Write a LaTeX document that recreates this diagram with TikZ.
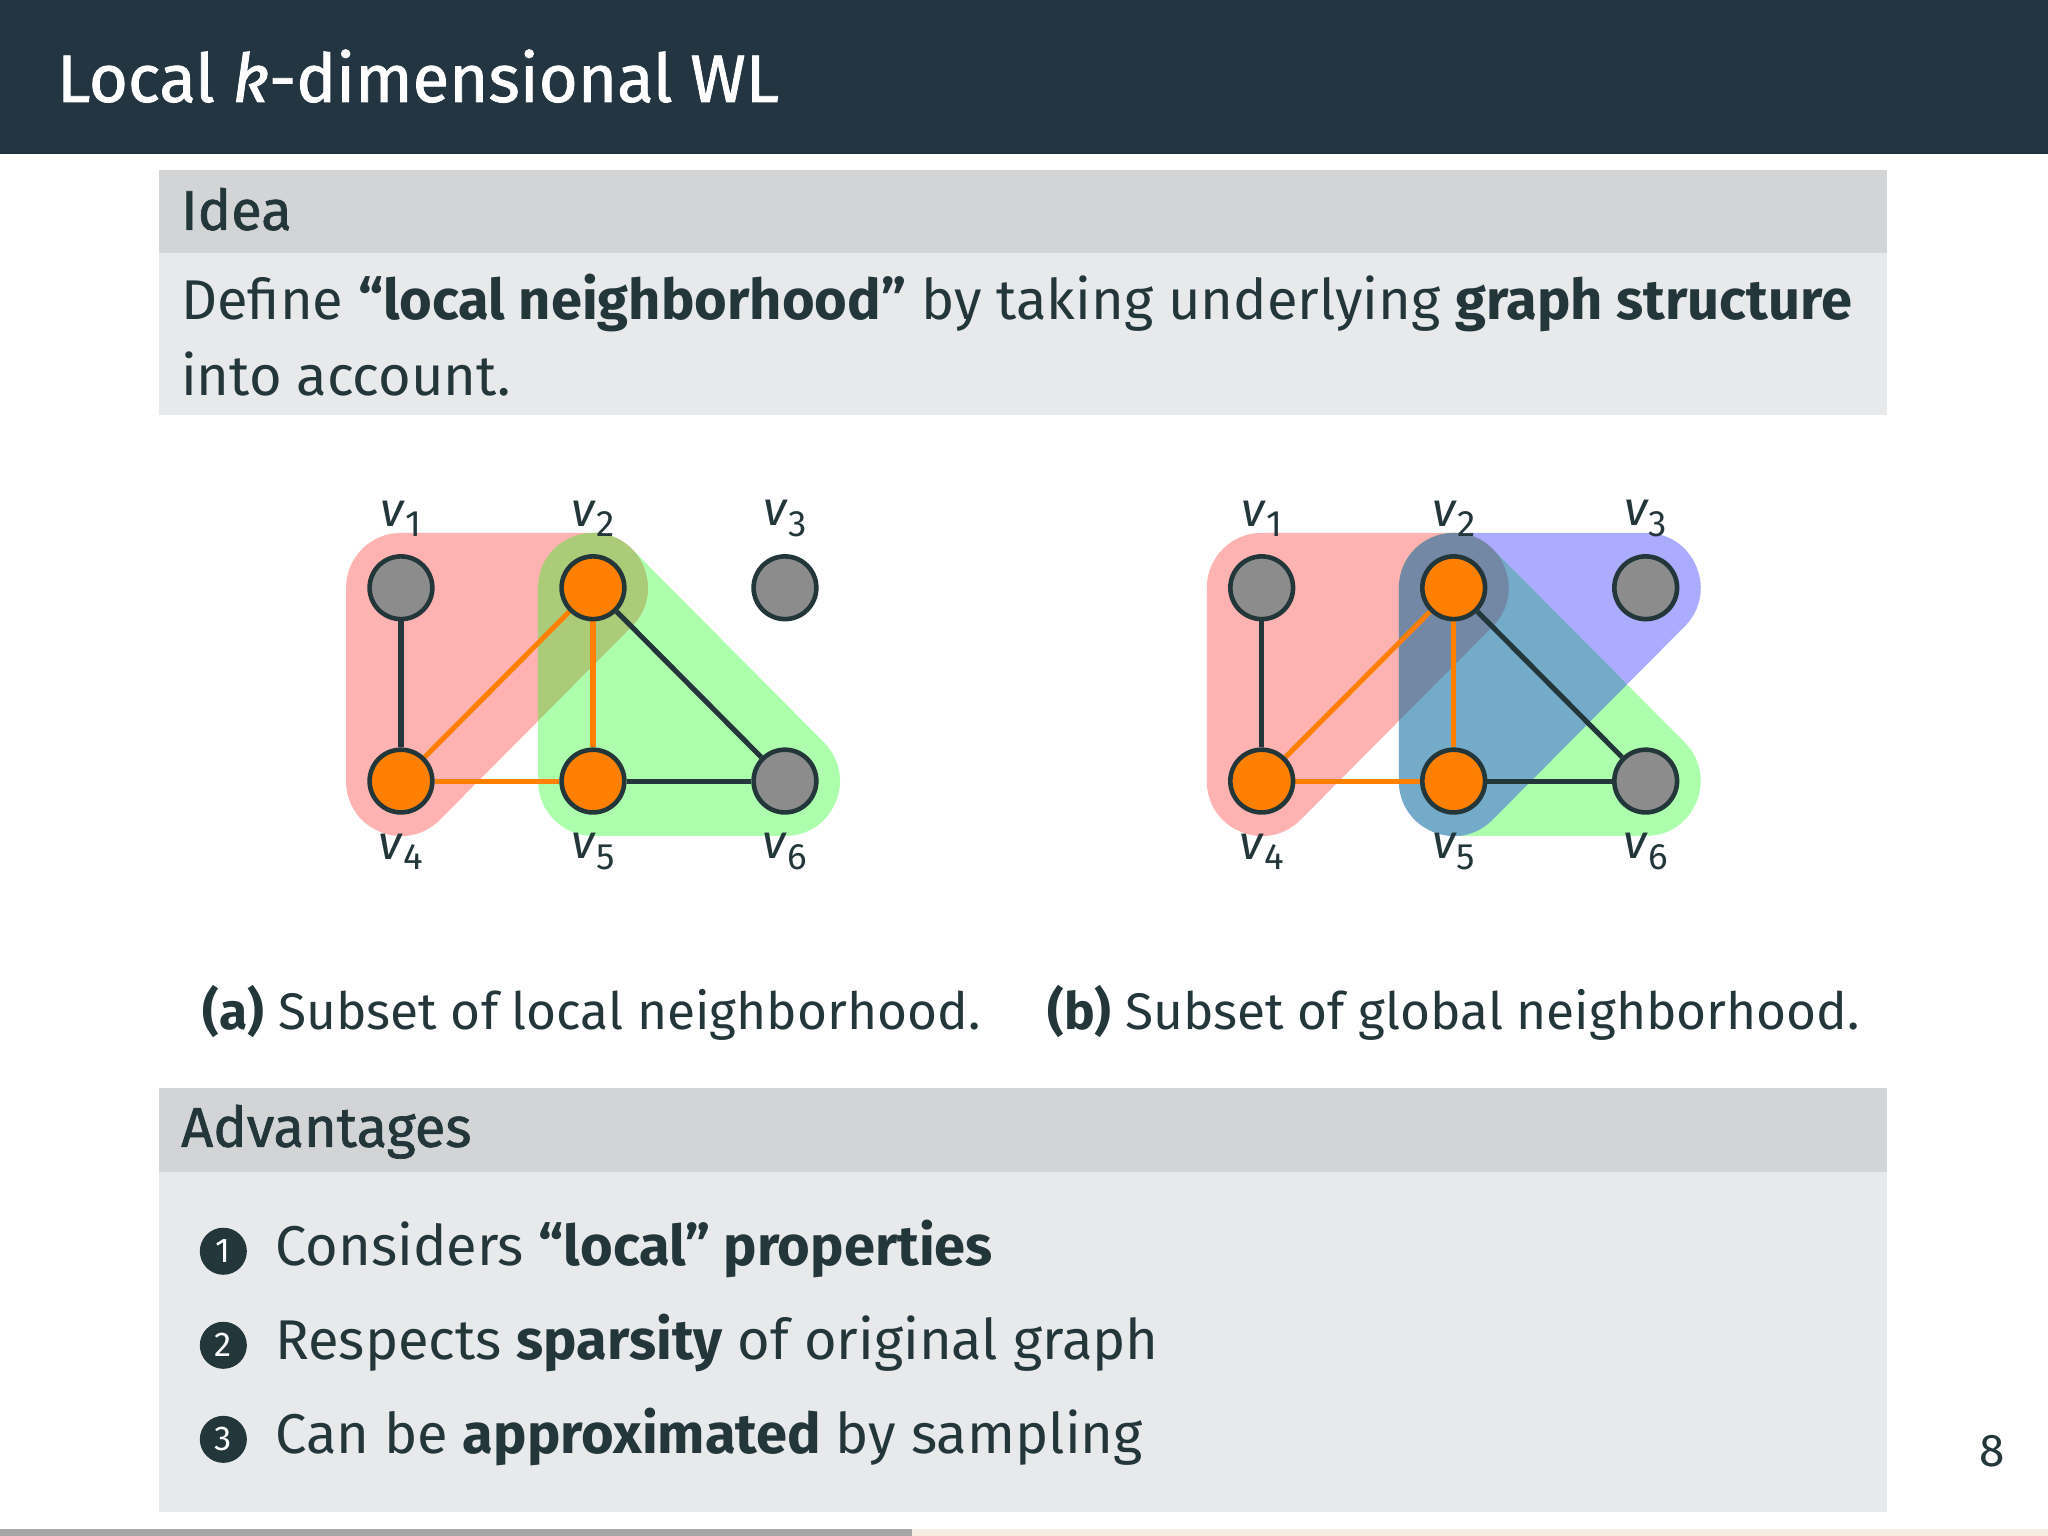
\documentclass[tikz,border=0pt]{standalone}
\usepackage{fontspec}
\setmainfont{Fira Sans}
\newfontfamily\semib{Fira Sans}[FakeBold=1.2]
\pgfdeclarelayer{regions}
\pgfdeclarelayer{edges}
\pgfsetlayers{regions,edges,main}
\definecolor{dk}{HTML}{23373B}
\definecolor{bar}{HTML}{233540}
\definecolor{hd}{HTML}{D2D4D6}
\definecolor{bd}{HTML}{E8E9EB}
\definecolor{og}{HTML}{FF8000}
\definecolor{gy}{HTML}{8C8C8C}
\begin{document}
\begin{tikzpicture}[x=0.01cm,y=-0.01cm,
  vert/.style={circle,draw=dk,line width=1pt,minimum size=0.48cm,inner sep=0pt},
  gv/.style={vert,fill=gy}, ov/.style={vert,fill=og},
  be/.style={draw=dk,line width=1.1pt}, oe/.style={draw=og,line width=1.1pt},
  lab/.style={text=dk,font=\fontsize{10.5}{12}\selectfont},
  txt/.style={text=dk,anchor=base west,font=\fontsize{12.2}{15}\selectfont,inner sep=0pt},
  num/.style={circle,fill=dk,text=white,minimum size=0.36cm,inner sep=0pt,font=\fontsize{7.5}{9}\selectfont}]
\useasboundingbox (0,0) rectangle (1568,1176);
\fill[bar] (0,0) rectangle (1568,118);
\node[anchor=base west,text=white,inner sep=0pt,font=\semib\fontsize{14.6}{18}\selectfont] (title) at (43,78) {Local \textit{k}-dimensional WL};
\fill[hd] (122,130) rectangle (1445,194);
\fill[bd] (122,194) rectangle (1445,318);
\node[txt,font=\semib\fontsize{12.2}{15}\selectfont] (idea) at (138,176) {Idea};
\node[txt] (l1) at (138,245) {Define \textbf{“local neighborhood”} by taking underlying \textbf{graph structure}};
\node[txt] (l2) at (138,303) {into account.};
\newcommand{\vl}[1]{\textit{v}\raisebox{-0.4ex}{\fontsize{8}{9}\selectfont #1}}
\foreach \g/\ox in {a/0,b/659}{
  \node[gv] (\g1) at (307+\ox,450) {};
  \node[ov] (\g2) at (454+\ox,450) {};
  \node[gv] (\g3) at (601+\ox,450) {};
  \node[ov] (\g4) at (307+\ox,598) {};
  \node[ov] (\g5) at (454+\ox,598) {};
  \node[gv] (\g6) at (601+\ox,598) {};
  \foreach \i in {1,2,3} \node[lab] (\g l\i) at (307+\ox+147*\i-147,397) {\vl{\i}};
  \foreach \i in {4,5,6} \node[lab] (\g l\i) at (307+\ox+147*\i-588,652) {\vl{\i}};
  \begin{pgfonlayer}{edges}
  \draw[be] (\g1)--(\g4); \draw[be] (\g2)--(\g6); \draw[be] (\g5)--(\g6);
  \draw[oe] (\g4)--(\g2); \draw[oe] (\g4)--(\g5); \draw[oe] (\g2)--(\g5);
  \end{pgfonlayer}
}
\begin{pgfonlayer}{regions}
\foreach \p/\q/\r/\c/\o in {a1/a2/a4/red/0.3, a2/a5/a6/green/0.32, b1/b2/b4/red/0.3, b2/b5/b6/green/0.32, b2/b3/b5/blue/0.33}{
  \begin{scope}[transparency group,opacity=\o]
  \filldraw[\c,line width=0.84cm,line join=round] (\p.center)--(\q.center)--(\r.center)--cycle;
  \end{scope}}
\end{pgfonlayer}
\node[anchor=base,text=dk,inner sep=0pt,font=\fontsize{11.2}{14}\selectfont] (ca) at (453,788) {\textbf{(a)} Subset of local neighborhood.};
\node[anchor=base,text=dk,inner sep=0pt,font=\fontsize{11.2}{14}\selectfont] (cb) at (1113,788) {\textbf{(b)} Subset of global neighborhood.};
\fill[hd] (122,833) rectangle (1445,897);
\fill[bd] (122,897) rectangle (1445,1158);
\node[txt,font=\semib\fontsize{12.2}{15}\selectfont] (adv) at (138,878) {Advantages};
\node[num] (c1) at (171,958) {1};
\node[txt] (i1) at (210,969) {Considers \textbf{“local” properties}};
\node[num] (c2) at (171,1030) {2};
\node[txt] (i2) at (210,1041) {Respects \textbf{sparsity} of original graph};
\node[num] (c3) at (171,1102) {3};
\node[txt] (i3) at (210,1113) {Can be \textbf{approximated} by sampling};
\node[anchor=base,text=dk,inner sep=0pt,font=\fontsize{10}{12}\selectfont] (pg) at (1525,1123) {8};
\fill[gray!70] (0,1171) rectangle (698,1176);
\fill[brown!15] (698,1171) rectangle (1568,1176);
\end{tikzpicture}
\end{document}
